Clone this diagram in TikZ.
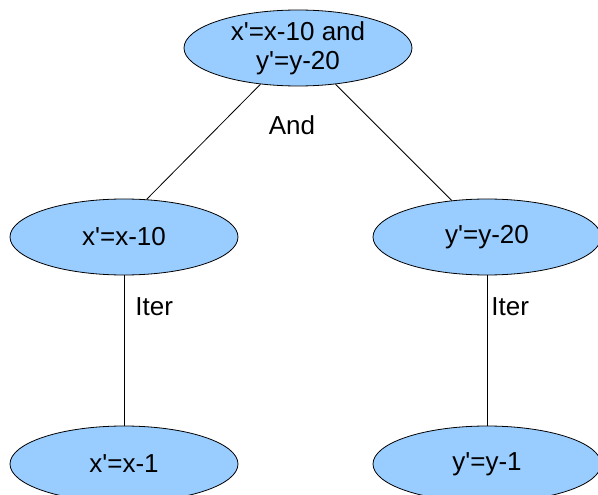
\documentclass[tikz,border=0pt]{standalone}
\usepackage{fontspec}
\setmainfont{Liberation Sans}[Ligatures=TeXOff]
\usetikzlibrary{shapes.geometric}
\definecolor{nodeblue}{HTML}{99CCFF}

\begin{document}
\begin{tikzpicture}[x=1pt, y=-1pt, line width=0.8pt,
	state/.style={ellipse, draw, fill=nodeblue, minimum width=228pt, minimum height=76pt,
		inner sep=0pt, align=center, font=\fontsize{26}{29}\selectfont},
	lbl/.style={font=\fontsize{26}{29}\selectfont, inner sep=0pt}]
			\useasboundingbox (0,0) rectangle (598,495);
			\node[state] (both) at (298,48) {x'=x-10 and\\y'=y-20};
			\node[state] (xten) at (124,237) {x'=x-10};
			\node[state] (yten) at (487,237) {y'=y-20};
			\node[state] (xone) at (124,464) {x'=x-1};
			\node[state] (yone) at (487,464) {y'=y-1};
			\draw (both.224) -- (xten.59);
			\draw (both.316) -- (yten.134);
			\draw (xten) -- (xone);
			\draw (yten) -- (yone);
			\node[lbl] (andlbl) at (292,125) {And};
			\node[lbl, anchor=west] (xiter) at (135,307) {Iter};
			\node[lbl, anchor=west] (yiter) at (491,307) {Iter};
			\end{tikzpicture}
\end{document}
